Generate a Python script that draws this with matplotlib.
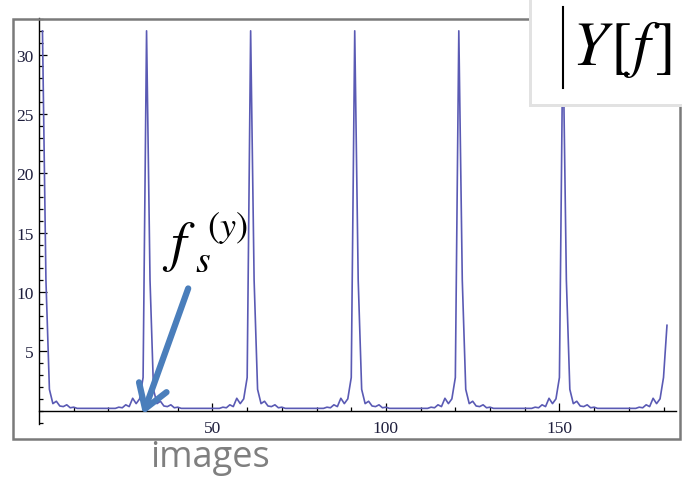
import matplotlib.pyplot as plt
from matplotlib.patches import Rectangle
from matplotlib.lines import Line2D

## Data
# one period of |Y[f]|, offset 0 is the peak, then the sidelobes and the flat floor
period = [32, 11, 1.8, 0.6, 0.8, 0.4, 0.35, 0.5, 0.25, 0.3,
          0.2, 0.2, 0.2, 0.2, 0.2, 0.2, 0.2, 0.2, 0.2, 0.2, 0.2,
          0.2, 0.3, 0.25, 0.5, 0.35, 1.05, 0.6, 1.0, 2.8]
n_periods = 6
last_val = 7.2  # plot is cut at f = 181

mag = period * n_periods + [last_val]
freq = list(range(1, len(mag) + 1))

x_major = [50, 100, 150]
x_minor = list(range(10, 190, 10))
y_major = [5, 10, 15, 20, 25, 30]
y_minor = list(range(-1, 34))

line_color = '#5a5ab4'
label_color = '#1e1e3c'

plt.rcParams['mathtext.fontset'] = 'stix'
fig = plt.figure(figsize=(6.82, 4.81), dpi=100)
W, H = 682.0, 481.0

def fx(px):
    return px / W

def fy(py):
    return 1 - py / H

# gray frame round the picture
fig.patches.append(Rectangle((fx(13.3), fy(439.7)), (680.3 - 13.3) / W, (439.7 - 20) / H,
                             transform=fig.transFigure, fill=False, edgecolor='#7a7a7a', lw=1.8))

ax = fig.add_axes([fx(39), fy(425.4), 637 / W, (425.4 - 18.8) / H])
ax.set_xlim(0, 183.6)
ax.set_ylim(-1.15, 33.1)
ax.patch.set_alpha(0)

ax.plot(freq, mag, color=line_color, lw=1.2, zorder=2)

# mathematica-like axes through the origin
for s in ['top', 'right']:
    ax.spines[s].set_visible(False)
ax.spines['left'].set_position(('data', 0))
ax.spines['bottom'].set_position(('data', 0))
ax.spines['left'].set_linewidth(1.0)
ax.spines['bottom'].set_linewidth(1.0)

ax.set_xticks(x_major)
ax.set_xticks(x_minor, minor=True)
ax.set_yticks(y_major)
ax.set_yticks(y_minor, minor=True)
ax.tick_params(which='major', direction='in', length=5.5, width=0.9)
ax.tick_params(which='minor', direction='in', length=3.2, width=0.9)
ax.tick_params(axis='x', which='major', pad=7)
ax.tick_params(axis='y', which='major', pad=4)
for lab in ax.get_xticklabels() + ax.get_yticklabels():
    lab.set_family('Liberation Serif')
    lab.set_fontsize(12.5)
    lab.set_color(label_color)

# |Y[f]| box in the top right corner, with a soft shadow
fig.patches.append(Rectangle((fx(529), fy(108)), 160 / W, 108 / H, transform=fig.transFigure,
                             facecolor='#e2e2e2', edgecolor='none', zorder=5))
fig.patches.append(Rectangle((fx(532), fy(105)), 160 / W, 110 / H, transform=fig.transFigure,
                             facecolor='white', edgecolor='none', zorder=6))
fig.lines.append(Line2D([fx(563), fx(563)], [fy(8), fy(89)], transform=fig.transFigure,
                        color='black', lw=1.5, zorder=7))
fig.text(fx(572), fy(50), r'$Y\hspace{0.08}[\hspace{0.04}f\hspace{0.1}]$', fontsize=45,
         va='center', ha='left', zorder=7)

# f_s^(y) label and the blue arrow
fig.text(fx(179), fy(247), r'$f$', fontsize=40, ha='center', va='center', zorder=4)
fig.text(fx(203), fy(262), r'$s$', fontsize=27, ha='center', va='center', zorder=4)
fig.text(fx(227), fy(228), r'$(y)$', fontsize=26, ha='center', va='center', zorder=4)
ax.annotate('', xy=(30.0, -0.3), xytext=(43.0, 10.3),
            arrowprops=dict(arrowstyle='->,head_length=0.55,head_width=0.35',
                            color='#4a7ebb', lw=4.5, mutation_scale=30, shrinkA=0, shrinkB=0),
            annotation_clip=False, zorder=4)

fig.text(fx(210), fy(458), 'images', fontsize=26, family='Open Sans', color='#7f7f7f',
         ha='center', va='center')

plt.savefig('out.png', dpi=100)
